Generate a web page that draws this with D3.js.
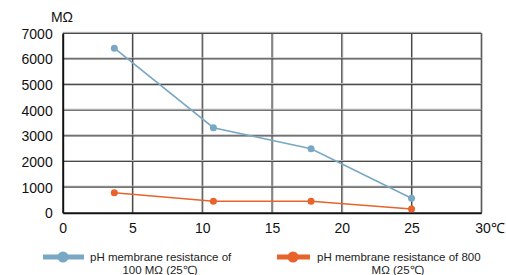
<!DOCTYPE html>
<html><head><meta charset="utf-8">
<script src="https://cdn.jsdelivr.net/npm/d3@7"></script>
<style>body{margin:0;background:#fff}svg{display:block}</style>
</head><body>
<script>
const temps = [3.7, 10.8, 17.8, 25];
const series100 = [6420, 3320, 2500, 570];
const series800 = [780, 450, 450, 150];
const xTicks = [0, 5, 10, 15, 20, 25];
const yTicks = [0, 1000, 2000, 3000, 4000, 5000, 6000, 7000];
const seriesNames = ["pH membrane resistance of 100 MΩ (25℃)", "pH membrane resistance of 800 MΩ (25℃)"];
const colors = ["#78a8c4", "#e8632b"];

const W = 506, H = 275;
const svg = d3.select("body").append("svg").attr("width", W).attr("height", H)
  .style("font-family", "'Liberation Sans', Arial, sans-serif");
const x = d3.scaleLinear().domain([0, 30]).range([62.7, 481.3]);
const y = d3.scaleLinear().domain([0, 7000]).range([212.8, 33.3]);

const g = svg.append("g");
[...xTicks.slice(1), 30].forEach(t => {
  g.append("line").attr("x1", x(t) + 1).attr("x2", x(t) + 1).attr("y1", y(7000)).attr("y2", y(0))
    .attr("stroke", "#bbb").attr("stroke-width", 1);
  g.append("line").attr("x1", x(t)).attr("x2", x(t)).attr("y1", y(7000)).attr("y2", y(0))
    .attr("stroke", "#4a4a4a").attr("stroke-width", 1.2);
});
yTicks.slice(1).forEach(t => {
  g.append("line").attr("x1", x(0)).attr("x2", x(30)).attr("y1", y(t) - 1).attr("y2", y(t) - 1)
    .attr("stroke", "#bbb").attr("stroke-width", 1);
  g.append("line").attr("x1", x(0)).attr("x2", x(30)).attr("y1", y(t)).attr("y2", y(t))
    .attr("stroke", "#4a4a4a").attr("stroke-width", 1.2);
});

const xAxis = d3.axisBottom(x).tickValues(xTicks).tickSize(0).tickPadding(10).tickFormat(d3.format("d"));
const yAxis = d3.axisLeft(y).tickValues(yTicks).tickSize(0).tickPadding(10).tickFormat(d3.format("d"));
const xa = svg.append("g").attr("transform", `translate(0,${y(0)})`).call(xAxis);
const ya = svg.append("g").attr("transform", `translate(${x(0)},0)`).call(yAxis);
[xa, ya].forEach(a => {
  a.select(".domain").attr("stroke", "#111").attr("stroke-width", 2);
  a.selectAll("text").attr("font-size", 14).attr("fill", "#111").attr("font-family", "'Liberation Sans', Arial, sans-serif");
});
ya.selectAll("text").attr("dy", "0.35em");
svg.append("text").attr("x", x(30) - 6).attr("y", y(0) + 10).attr("dy", "0.71em")
  .attr("text-anchor", "start").attr("font-size", 14).attr("fill", "#111").text("30℃");
svg.append("text").attr("x", 62).attr("y", 22).attr("text-anchor", "middle")
  .attr("font-size", 14).attr("fill", "#111").text("MΩ");

const line = d3.line().x((d, i) => x(temps[i])).y(d => y(d));
[series100, series800].forEach((s, k) => {
  svg.append("path").datum(s).attr("d", line).attr("fill", "none")
    .attr("stroke", colors[k]).attr("stroke-width", 1.6);
  svg.selectAll(null).data(s).enter().append("circle")
    .attr("cx", (d, i) => x(temps[i])).attr("cy", d => y(d)).attr("r", 3.5).attr("fill", colors[k]);
});

const legends = [
  {x1: 43, x2: 84, cx: 63, tx: 90, cx2: 160, l1: "pH membrane resistance of", l2: "100 MΩ (25℃)"},
  {x1: 277, x2: 310, cx: 293, tx: 317, cx2: 398, l1: "pH membrane resistance of 800", l2: "MΩ (25℃)"}
];
legends.forEach((L, k) => {
  svg.append("line").attr("x1", L.x1).attr("x2", L.x2).attr("y1", 257).attr("y2", 257)
    .attr("stroke", colors[k]).attr("stroke-width", 5);
  svg.append("circle").attr("cx", L.cx).attr("cy", 257).attr("r", 5.5).attr("fill", colors[k]);
  svg.append("text").attr("x", L.tx).attr("y", 261).attr("font-size", 11.5).attr("fill", "#222").text(L.l1);
  svg.append("text").attr("x", L.cx2).attr("y", 274).attr("text-anchor", "middle").attr("font-size", 11.5).attr("fill", "#222").text(L.l2);
});
</script>
</body></html>
